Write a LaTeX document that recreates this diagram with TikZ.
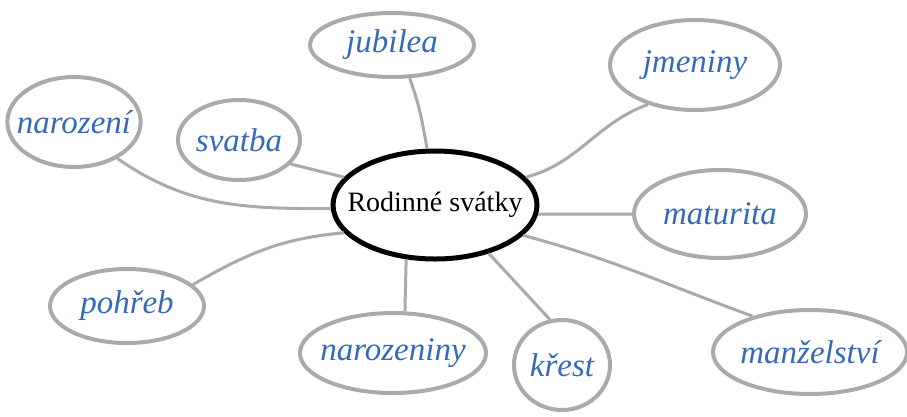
\documentclass[tikz,border=0pt]{standalone}
\usepackage{fontspec}
\setmainfont{Liberation Serif}
\usetikzlibrary{shapes.geometric}
\definecolor{pencil}{RGB}{170,170,170}
\definecolor{ink}{RGB}{55,105,180}

\begin{document}
\begin{tikzpicture}[x=1pt,y=-1pt,
  hub/.style={ellipse,draw=black,line width=5pt,inner xsep=-16pt,inner ysep=0pt,
    font=\fontsize{28}{32}\selectfont},
  leaf/.style={ellipse,draw=pencil,line width=4pt,inner sep=-10pt,
    text=ink,font=\fontsize{33}{36}\selectfont\itshape},
  link/.style={draw=pencil,line width=3pt}]
  \useasboundingbox (0,0) rectangle (907,416);

  \node[hub,minimum width=204pt,minimum height=108pt] (main) at (435,205) {Rodinné svátky};

  \node[leaf,minimum width=126pt,minimum height=90pt] (narozeni) at (74,122) {narození};
  \node[leaf,minimum width=122pt,minimum height=80pt] (svatba) at (239,140) {svatba};
  \node[leaf,minimum width=164pt,minimum height=64pt] (jubilea) at (392,45) {jubilea};
  \node[leaf,minimum width=170pt,minimum height=90pt] (jmeniny) at (695,65) {jmeniny};
  \node[leaf,minimum width=172pt,minimum height=88pt] (maturita) at (720,214) {maturita};
  \node[leaf,minimum width=194pt,minimum height=84pt] (manzelstvi) at (810,352) {manželství};
  \node[leaf,minimum width=96pt,minimum height=90pt] (krest) at (562,365) {křest};
  \node[leaf,minimum width=186pt,minimum height=80pt] (narozeniny) at (393,353) {narozeniny};
  \node[leaf,minimum width=154pt,minimum height=74pt] (pohreb) at (127,306) {pohřeb};

  \path[link]
    (main.182) edge[out=180,in=-35] (narozeni.-40)
    (main.163) edge (svatba.-25)
    (main.98)  edge[out=100,in=-70] (jubilea.-62)
    (main.17)  edge[out=15,in=200] (jmeniny.220)
    (main.-5)  edge (maturita.west)
    (main.-19) edge[out=-15,in=160] (manzelstvi.148)
    (main.-42) edge (krest.105)
    (main.-118) edge (narozeniny.74)
    (main.197) edge[out=185,in=30] (pohreb.18);
\end{tikzpicture}
\end{document}
